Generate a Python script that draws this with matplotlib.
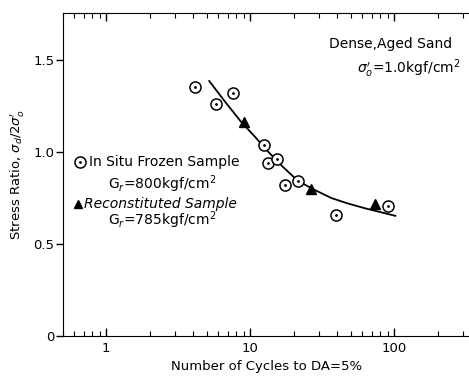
import matplotlib.pyplot as plt
import numpy as np
from matplotlib.ticker import LogLocator, NullFormatter, FixedLocator

# in situ frozen samples (circles)
frozen_n = [4.15, 5.8, 7.6, 12.5, 13.3, 15.4, 17.5, 21.5, 39.5, 91]
frozen_sr = [1.353, 1.26, 1.32, 1.038, 0.94, 0.96, 0.82, 0.84, 0.66, 0.707]

# reconstituted samples (triangles)
recon_n = [9.1, 26.5, 73.8]
recon_sr = [1.165, 0.80, 0.72]

# fitted curve
curve_n = [5.19, 6.7, 8.66, 10.8, 13.55, 16.9, 21.5, 27.8, 36.5, 47.2, 61.9, 101.6]
curve_sr = [1.386, 1.272, 1.163, 1.082, 0.995, 0.918, 0.842, 0.795, 0.750, 0.721, 0.695, 0.653]

fig = plt.figure(figsize=(4.69, 3.79), dpi=100)
ax = fig.add_axes([0.134, 0.1135, 0.87, 0.852])

ax.plot(curve_n, curve_sr, color='black', lw=1.3)
ax.plot(frozen_n, frozen_sr, 'o', ms=8, mfc='white', mec='black', mew=1.1)
ax.plot(frozen_n, frozen_sr, '.', ms=2, color='black')
ax.plot(recon_n, recon_sr, '^', ms=7, color='black')

ax.set_xscale('log')
ax.set_xlim(0.5, 340)
ax.set_ylim(0, 1.755)

ax.spines['right'].set_visible(False)
ax.xaxis.set_major_locator(FixedLocator([1, 10, 100]))
ax.xaxis.set_minor_locator(LogLocator(base=10, subs=np.arange(2, 10)))
ax.xaxis.set_minor_formatter(NullFormatter())
ax.set_xticklabels(['1', '10', '100'])
ax.tick_params(axis='x', which='both', direction='in', top=True, bottom=True)
ax.tick_params(axis='x', which='major', length=6, width=1, pad=4)
ax.tick_params(axis='x', which='minor', length=3.5, width=0.8)
ax.set_yticks([0, 0.5, 1.0, 1.5])
ax.set_yticklabels(['0', '0.5', '1.0', '1.5'])
ax.tick_params(axis='y', direction='out', length=5, width=1, pad=1)
ax.tick_params(labelsize=9.5)

ax.set_xlabel('Number of Cycles to DA=5%', fontsize=9.5, labelpad=4)
ax.set_ylabel("Stress Ratio, $\\sigma_d/2\\sigma_o'$", fontsize=9.5, labelpad=5)

ax.text(0.955, 0.905, 'Dense,Aged Sand', transform=ax.transAxes, ha='right', va='center', fontsize=10)
ax.text(0.975, 0.828, "$\\sigma_o'$=1.0kgf/cm$^2$", transform=ax.transAxes, ha='right', va='center', fontsize=10)

# legend-like annotations
ax.plot([0.042], [0.538], 'o', ms=8, mfc='white', mec='black', mew=1.1, transform=ax.transAxes, clip_on=False)
ax.plot([0.042], [0.538], '.', ms=2, color='black', transform=ax.transAxes, clip_on=False)
ax.text(0.063, 0.538, 'In Situ Frozen Sample', transform=ax.transAxes, ha='left', va='center', fontsize=10)
ax.text(0.11, 0.47, 'G$_r$=800kgf/cm$^2$', transform=ax.transAxes, ha='left', va='center', fontsize=10)
ax.plot([0.036], [0.41], '^', ms=6, color='black', transform=ax.transAxes, clip_on=False)
ax.text(0.052, 0.41, 'Reconstituted Sample', transform=ax.transAxes, ha='left', va='center', fontsize=10, style='italic')
ax.text(0.11, 0.36, 'G$_r$=785kgf/cm$^2$', transform=ax.transAxes, ha='left', va='center', fontsize=10)

fig.savefig('out.png', dpi=100)
